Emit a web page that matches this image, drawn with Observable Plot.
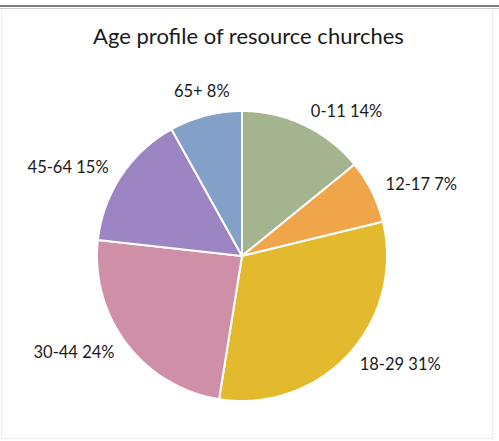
<!DOCTYPE html>
<html>
<head>
<meta charset="utf-8">
<script src="https://cdn.jsdelivr.net/npm/d3@7"></script>
<script src="https://cdn.jsdelivr.net/npm/@observablehq/plot@0.6"></script>
<style>
  html, body { margin: 0; padding: 0; background: #fff; }
  #page { position: relative; width: 499px; height: 441px; overflow: hidden; font-family: Lato, "Open Sans", sans-serif; }
  #rule1 { position: absolute; left: 0; top: 5px; width: 499px; height: 2px; background: #7d7d7d; }
  #rule2 { position: absolute; left: 0; top: 8px; width: 499px; height: 1px; background: #cfcfcf; }
  #box { position: absolute; left: 1px; top: 9px; width: 490px; height: 429px; border: 1px solid #ececec; border-top: none; }
  #title { position: absolute; left: 0; top: 23px; width: 497px; text-align: center; font-size: 22px; line-height: 26px; color: #1a1a1a; z-index: 2; }
  #chart { position: absolute; left: 0; top: 0; }
</style>
</head>
<body>
<div id="page">
  <div id="rule1"></div>
  <div id="rule2"></div>
  <div id="box"></div>
  <div id="title">Age profile of resource churches</div>
  <div id="chart"></div>
</div>
<script>
// Data
const ages = ["0-11", "12-17", "18-29", "30-44", "45-64", "65+"];
const percents = [14, 7, 31, 24, 15, 8];
const colors = ["#a4b48e", "#f1a54b", "#e3b92e", "#cf8fa6", "#9d85c3", "#83a0c9"];

const data = ages.map((age, i) => ({age, value: percents[i]}));
const arcs = d3.pie().value(d => d.value).sort(null)(data);

// Slice outlines (unit circle, y up), computed from pie angles
const slicePoints = [];
for (const a of arcs) {
  slicePoints.push({age: a.data.age, x: 0, y: 0});
  const n = Math.max(2, Math.ceil((a.endAngle - a.startAngle) / (Math.PI / 180)));
  for (let k = 0; k <= n; k++) {
    const t = a.startAngle + (a.endAngle - a.startAngle) * k / n;
    slicePoints.push({age: a.data.age, x: Math.sin(t), y: Math.cos(t)});
  }
}

// Outside-end labels
const R = 1.105;
const labels = arcs.map(a => {
  const m = (a.startAngle + a.endAngle) / 2;
  const dx = Math.sin(m), dy = Math.cos(m);
  return {
    text: `${a.data.age} ${a.data.value}%`,
    x: R * dx, y: R * dy,
    side: dx > 0.35 ? "start" : dx < -0.35 ? "end" : "middle"
  };
});

const labelStyle = {fontSize: 16.5, fill: "#1a1a1a", fontFamily: "Lato, 'Open Sans', sans-serif"};

const plot = Plot.plot({
  width: 499,
  height: 441,
  marginLeft: 96.5,
  marginRight: 112.5,
  marginTop: 110.5,
  marginBottom: 40.5,
  x: {domain: [-1, 1], axis: null},
  y: {domain: [-1, 1], axis: null},
  color: {domain: ages, range: colors},
  style: {background: "transparent", overflow: "visible"},
  marks: [
    Plot.line(slicePoints, {x: "x", y: "y", z: "age", fill: "age", stroke: "white", strokeWidth: 2, strokeLinejoin: "round", curve: "linear-closed"}),
    Plot.text(labels, {filter: d => d.side === "start", x: "x", y: "y", text: "text", textAnchor: "start", ...labelStyle}),
    Plot.text(labels, {filter: d => d.side === "end", x: "x", y: "y", text: "text", textAnchor: "end", ...labelStyle}),
    Plot.text(labels, {filter: d => d.side === "middle", x: "x", y: "y", text: "text", textAnchor: "middle", dy: -9, ...labelStyle})
  ]
});
document.getElementById("chart").appendChild(plot);
</script>
</body>
</html>
